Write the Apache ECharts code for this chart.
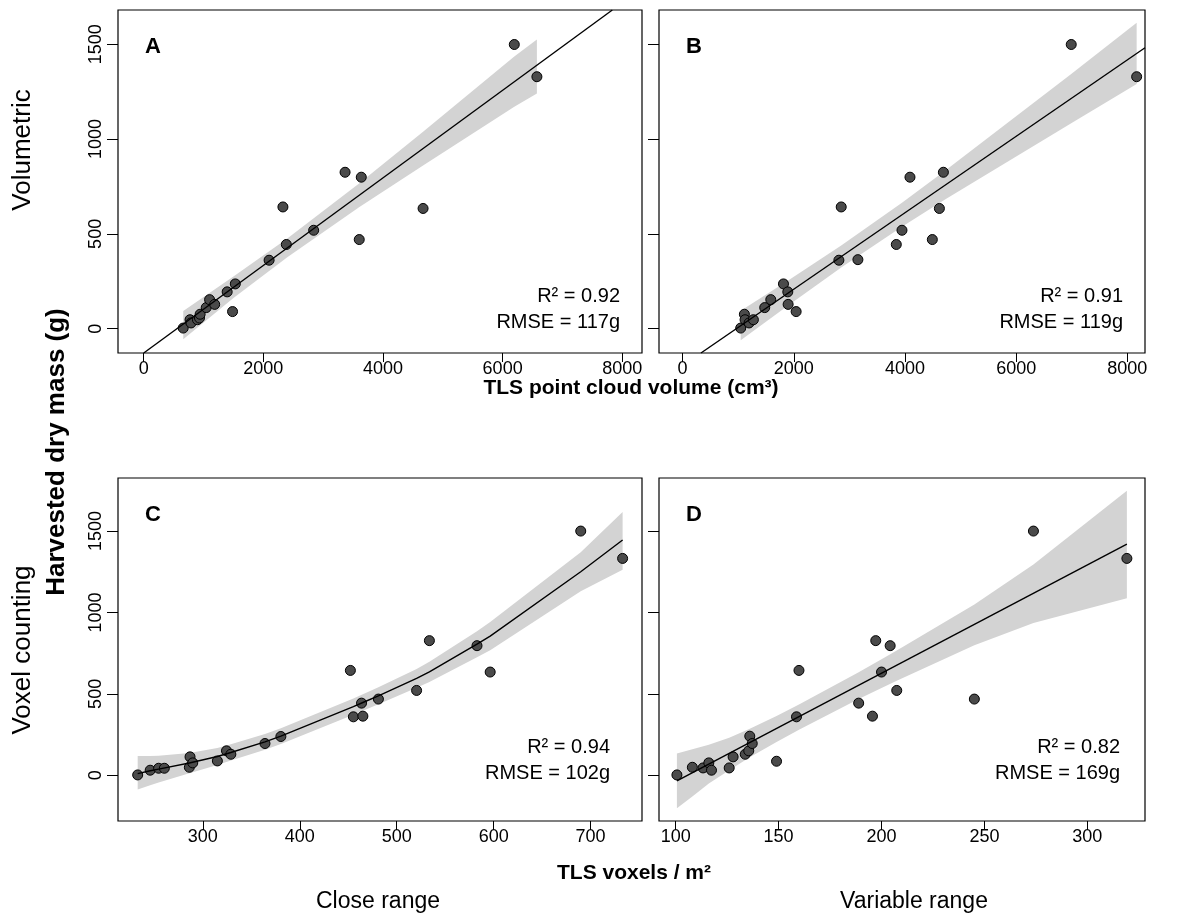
<!DOCTYPE html>
<html>
<head>
<meta charset="utf-8">
<script src="https://cdn.jsdelivr.net/npm/echarts@6/dist/echarts.min.js"></script>
<style>
  html, body { margin: 0; padding: 0; background: #fff; }
  #chart { width: 1195px; height: 918px; }
</style>
</head>
<body>
<div id="chart"></div>
<script>
// harvested dry mass (g) against TLS estimates
const pointsA = [[660, 3], [774, 47], [791, 30], [898, 47], [932, 56], [943, 76], [1045, 111], [1101, 153],
  [1186, 128], [1395, 194], [1531, 236], [1485, 90], [2096, 361], [2384, 444], [2327, 642], [2841, 519],
  [3366, 825], [3637, 799], [3603, 470], [4670, 634], [6195, 1499], [6573, 1329]]
const pointsB = [[1045, 3], [1111, 76], [1123, 47], [1195, 30], [1273, 47], [1477, 111], [1586, 153], [1814, 236],
  [1892, 194], [1898, 128], [2042, 90], [2811, 361], [2853, 642], [3153, 364], [3844, 444], [3946, 519],
  [4090, 799], [4492, 470], [4619, 634], [4691, 825], [6991, 1499], [8168, 1329]]
const pointsC = [[232.8, 2], [245.7, 31], [254.4, 43], [260.3, 43], [286.1, 49], [286.8, 113], [289.6, 76], [315, 88],
  [324.4, 150], [328.9, 129], [364.1, 195], [380.5, 238], [452.2, 644], [455.3, 359], [463.7, 443], [465.1, 363],
  [481.1, 468], [520.5, 521], [533.7, 827], [582.8, 796], [596.4, 634], [689.8, 1500], [733, 1332]]
const pointsD = [[100.6, 2], [108.1, 49], [113.3, 45], [116.1, 76], [117.4, 31], [126, 45], [127.9, 113], [133.8, 129],
  [135.5, 150], [136, 240], [137.2, 195], [149, 86], [158.7, 359], [159.9, 644], [188.9, 443], [195.6, 363],
  [197.2, 827], [200, 634], [204.2, 796], [207.4, 521], [245.1, 468], [273.8, 1500], [319.2, 1332]]

// fitted lines (where they meet the frame for A and B)
const fitA = [[0, -128.5], [7834, 1681]]
const fitB = [[330, -128.5], [8318, 1482]]
const fitC = [[232.8, 10], [245.7, 28], [254.4, 38], [286.1, 75], [315, 115], [328.9, 140], [364.1, 205], [380.5, 240],
  [455.3, 422], [465.1, 447], [481.1, 488], [520.5, 595], [533.7, 635], [582.8, 805], [596.4, 855], [689.8, 1250], [733, 1445]]
const fitD = [[100.6, -35], [319.2, 1420]]

// confidence bands: [x, lower, upper]
const bandA = [[661, -56, 93], [1500, 161, 275], [2400, 377, 475], [3600, 640, 766], [4670, 861, 1039],
  [6195, 1170, 1436], [6573, 1240, 1526]]
const bandB = [[1045, -61, 94], [1898, 122, 254], [2853, 322, 438], [3946, 537, 664], [4691, 676, 826],
  [6991, 1084, 1344], [8168, 1290, 1614]]
const bandC = [[232.8, -88, 119], [245.7, -62, 118], [254.4, -44, 120], [286.1, 13, 137], [315, 63, 167],
  [328.9, 90, 190], [364.1, 157, 253], [380.5, 192, 288], [455.3, 372, 472], [465.1, 397, 497], [481.1, 436, 540],
  [520.5, 537, 653], [533.7, 573, 697], [582.8, 725, 885], [596.4, 768, 942], [689.8, 1130, 1370], [733, 1262, 1617]]
const bandD = [[100.6, -203, 133], [108.1, -130, 160], [116.1, -51, 188], [126, 31, 231], [136, 110, 286],
  [149, 205, 364], [159.9, 279, 435], [188.9, 468, 632], [200, 536, 712], [207.4, 581, 766], [245.1, 799, 1049],
  [273.8, 935, 1295], [319.2, 1088, 1748]]

const ticksVol = [0, 2000, 4000, 6000, 8000]
const ticksClose = [300, 400, 500, 600, 700]
const ticksVariable = [100, 150, 200, 250, 300]
const ticksMass = [0, 500, 1000, 1500]

const panelLetters = ['A', 'B', 'C', 'D']
const statsR2 = ['R² = 0.92', 'R² = 0.91', 'R² = 0.94', 'R² = 0.82']
const statsRMSE = ['RMSE = 117g', 'RMSE = 119g', 'RMSE = 102g', 'RMSE = 169g']

const FONT = 'Liberation Sans, Arial, Helvetica, sans-serif'

const grids = [
  { left: 118, top: 10, width: 524, height: 343 },
  { left: 659, top: 10, width: 486, height: 343 },
  { left: 118, top: 478, width: 524, height: 343 },
  { left: 659, top: 478, width: 486, height: 343 },
]
const xRanges = [[-430, 8330], [-425, 8318], [212.5, 753], [91.9, 328]]
const yRanges = [[-128.5, 1681], [-128.5, 1681], [-281, 1826], [-281, 1826]]
const xTicks = [ticksVol, ticksVol, ticksClose, ticksVariable]

const plain = (v) => String(v)

function xAxis(i) {
  return {
    type: 'value', gridIndex: i, min: xRanges[i][0], max: xRanges[i][1],
    axisLine: { show: false, onZero: false },
    axisTick: { show: true, length: 9, customValues: xTicks[i], lineStyle: { color: '#000', width: 1 } },
    axisLabel: { customValues: xTicks[i], formatter: plain, fontSize: 18, color: '#000', fontFamily: FONT, margin: 7 },
    splitLine: { show: false },
  }
}
function yAxis(i) {
  return {
    type: 'value', gridIndex: i, min: yRanges[i][0], max: yRanges[i][1],
    axisLine: { show: false, onZero: false },
    axisTick: { show: true, length: 11, customValues: ticksMass, lineStyle: { color: '#000', width: 1 } },
    axisLabel: { show: i % 2 === 0, customValues: ticksMass, formatter: plain, rotate: 90, fontSize: 18, color: '#000', fontFamily: FONT, margin: 13 },
    splitLine: { show: false },
  }
}

function bandSeries(band, i) {
  return {
    type: 'custom', xAxisIndex: i, yAxisIndex: i, silent: true, z: 1,
    data: [[band[0][0], band[0][1]]],
    renderItem(params, api) {
      const upper = band.map((d) => api.coord([d[0], d[2]]))
      const lower = band.slice().reverse().map((d) => api.coord([d[0], d[1]]))
      return { type: 'polygon', shape: { points: upper.concat(lower) }, style: { fill: '#d3d3d3' } }
    },
  }
}
function pointSeries(points, i) {
  return {
    type: 'scatter', xAxisIndex: i, yAxisIndex: i, data: points, symbolSize: 10, z: 3, silent: true,
    itemStyle: { color: '#4a4a4a', borderColor: '#000', borderWidth: 1, opacity: 1 },
  }
}
function fitSeries(line, i) {
  return {
    type: 'line', xAxisIndex: i, yAxisIndex: i, data: line, symbol: 'none', z: 4, silent: true,
    lineStyle: { color: '#000', width: 1.4 },
  }
}

const graphics = []
function text(x, y, str, opts) {
  graphics.push(Object.assign({
    type: 'text', x: x, y: y, silent: true,
    style: Object.assign({ text: str, fill: '#000', font: '20px ' + FONT, textAlign: 'center', textVerticalAlign: 'middle' }, opts.style || {}),
  }, opts.el || {}))
}
const statsRight = [22, 22, 32, 25]
const statsTop = [286, 286, 269, 269]
grids.forEach((g, i) => {
  text(g.left + 35, g.top + 37, panelLetters[i], { style: { font: 'bold 22px ' + FONT } })
  const rx = g.left + g.width - statsRight[i]
  text(rx, g.top + statsTop[i], statsR2[i], { style: { textAlign: 'right' } })
  text(rx, g.top + statsTop[i] + 26, statsRMSE[i], { style: { textAlign: 'right' } })
})
text(631, 388, 'TLS point cloud volume (cm³)', { style: { font: 'bold 21px ' + FONT } })
text(634, 873, 'TLS voxels / m²', { style: { font: 'bold 21px ' + FONT } })
text(378, 902, 'Close range', { style: { font: '23px ' + FONT } })
text(914, 902, 'Variable range', { style: { font: '23px ' + FONT } })
text(23, 150, 'Volumetric', { style: { font: '26px ' + FONT }, el: { rotation: Math.PI / 2 } })
text(23, 650, 'Voxel counting', { style: { font: '26px ' + FONT }, el: { rotation: Math.PI / 2 } })
text(57, 452, 'Harvested dry mass (g)', { style: { font: 'bold 26px ' + FONT }, el: { rotation: Math.PI / 2 } })

const chart = echarts.init(document.getElementById('chart'), null, { renderer: 'canvas' })
chart.setOption({
  animation: false,
  backgroundColor: '#fff',
  textStyle: { fontFamily: FONT },
  grid: grids.map((g) => Object.assign({ show: true, borderColor: '#000', borderWidth: 1.2, backgroundColor: 'transparent' }, g)),
  xAxis: [0, 1, 2, 3].map(xAxis),
  yAxis: [0, 1, 2, 3].map(yAxis),
  series: [
    bandSeries(bandA, 0), pointSeries(pointsA, 0), fitSeries(fitA, 0),
    bandSeries(bandB, 1), pointSeries(pointsB, 1), fitSeries(fitB, 1),
    bandSeries(bandC, 2), pointSeries(pointsC, 2), fitSeries(fitC, 2),
    bandSeries(bandD, 3), pointSeries(pointsD, 3), fitSeries(fitD, 3),
  ],
  graphic: graphics,
})
</script>
</body>
</html>
